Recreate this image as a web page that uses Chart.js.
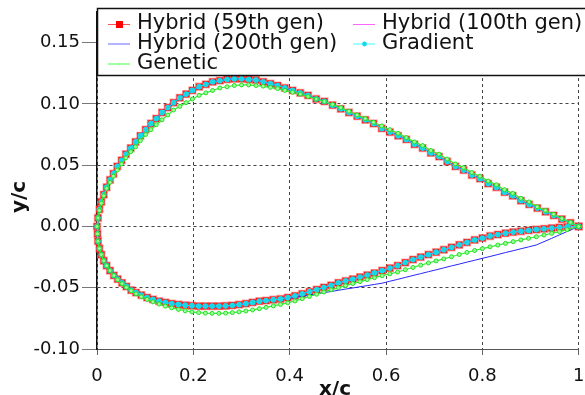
<!DOCTYPE html>
<html>
<head>
<meta charset="utf-8">
<script src="https://cdn.jsdelivr.net/npm/chart.js@4/dist/chart.umd.min.js"></script>
<style>
html, body { margin:0; padding:0; background:#fff; overflow:hidden; }
#wrap { width:585px; height:395px; position:relative; }
</style>
</head>
<body>
<div id="wrap"><canvas id="grafico"></canvas></div>
<script>
// DATOS
const upperX = [0.000,0.002,0.005,0.009,0.014,0.020,0.027,0.034,0.042,0.051,
    0.060,0.070,0.080,0.090,0.101,0.112,0.123,0.135,0.147,0.159,
    0.172,0.185,0.198,0.212,0.226,0.240,0.255,0.270,0.285,0.300,
    0.315,0.330,0.345,0.360,0.375,0.390,0.406,0.422,0.438,0.455,
    0.472,0.489,0.506,0.523,0.540,0.557,0.574,0.591,0.608,0.625,
    0.642,0.659,0.676,0.693,0.710,0.727,0.744,0.761,0.778,0.795,
    0.812,0.829,0.846,0.863,0.880,0.897,0.914,0.931,0.948,0.965,
    0.983,1.000];

const hybridUpperY = [0.000,0.007,0.014,0.020,0.026,0.032,0.038,0.043,0.049,0.054,
    0.059,0.064,0.069,0.074,0.079,0.084,0.088,0.093,0.097,0.101,
    0.105,0.108,0.111,0.114,0.116,0.118,0.119,0.120,0.1205,0.1205,
    0.120,0.1195,0.118,0.1165,0.115,0.113,0.111,0.109,0.107,0.104,
    0.102,0.099,0.096,0.093,0.090,0.087,0.084,0.080,0.077,0.074,
    0.071,0.067,0.064,0.060,0.057,0.053,0.049,0.046,0.042,0.039,
    0.035,0.032,0.028,0.025,0.021,0.018,0.015,0.012,0.009,0.006,
    0.003,0.000];

const geneticUpperY = [0.000,0.007,0.013,0.019,0.025,0.031,0.036,0.041,0.046,0.051,
    0.056,0.061,0.065,0.070,0.075,0.079,0.083,0.087,0.091,0.095,
    0.098,0.101,0.104,0.107,0.109,0.111,0.113,0.114,0.115,0.1155,
    0.1155,0.115,0.1145,0.1135,0.1125,0.111,0.1095,0.108,0.106,0.104,
    0.102,0.0995,0.097,0.094,0.091,0.088,0.085,0.082,0.079,0.076,
    0.0725,0.069,0.066,0.062,0.059,0.055,0.051,0.048,0.044,0.041,
    0.037,0.034,0.030,0.027,0.023,0.020,0.016,0.013,0.010,0.0065,
    0.0033,0.000];

const lowerX = [0.000,0.001,0.002,0.005,0.009,0.014,0.020,0.027,0.035,0.043,
    0.052,0.061,0.071,0.081,0.092,0.104,0.116,0.129,0.142,0.155,
    0.169,0.183,0.197,0.211,0.225,0.239,0.253,0.267,0.281,0.295,
    0.309,0.323,0.337,0.351,0.366,0.381,0.396,0.411,0.426,0.441,
    0.456,0.471,0.486,0.501,0.516,0.531,0.546,0.561,0.576,0.592,
    0.608,0.624,0.640,0.656,0.672,0.688,0.704,0.720,0.736,0.752,
    0.768,0.784,0.800,0.816,0.832,0.848,0.864,0.880,0.896,0.912,
    0.928,0.944,0.960,0.976,1.000];

const hybridLowerY = [0.000,-0.006,-0.012,-0.018,-0.023,-0.028,-0.032,-0.036,-0.040,-0.043,
    -0.046,-0.049,-0.052,-0.054,-0.056,-0.058,-0.0595,-0.061,-0.062,-0.063,
    -0.0637,-0.0643,-0.0647,-0.065,-0.065,-0.065,-0.065,-0.0648,-0.0644,-0.0638,
    -0.063,-0.062,-0.061,-0.0605,-0.0598,-0.0592,-0.058,-0.0566,-0.055,-0.0533,
    -0.0515,-0.0497,-0.048,-0.046,-0.0445,-0.043,-0.0413,-0.0397,-0.038,-0.036,
    -0.034,-0.032,-0.0295,-0.027,-0.025,-0.023,-0.021,-0.019,-0.017,-0.015,
    -0.013,-0.011,-0.0095,-0.0078,-0.0066,-0.0055,-0.0046,-0.0039,-0.0032,-0.0025,
    -0.0019,-0.0013,-0.0008,-0.0004,0.000];

const blueLowerY = [0.000,-0.006,-0.012,-0.018,-0.023,-0.028,-0.032,-0.036,-0.040,-0.043,
    -0.046,-0.049,-0.052,-0.054,-0.056,-0.058,-0.0595,-0.061,-0.062,-0.063,
    -0.0637,-0.0643,-0.0647,-0.065,-0.065,-0.065,-0.065,-0.0648,-0.0644,-0.0638,
    -0.063,-0.062,-0.061,-0.0605,-0.0600,-0.0594,-0.0587,-0.0579,-0.0570,-0.0560,
    -0.0550,-0.0540,-0.0531,-0.0521,-0.0511,-0.0502,-0.0492,-0.0483,-0.0473,-0.0463,
    -0.0447,-0.0432,-0.0416,-0.0400,-0.0385,-0.0369,-0.0354,-0.0338,-0.0322,-0.0307,
    -0.0291,-0.0276,-0.0260,-0.0245,-0.0229,-0.0213,-0.0198,-0.0182,-0.0167,-0.0151,
    -0.0124,-0.0097,-0.0069,-0.0041,0.000];

const geneticLowerY = [0.000,-0.006,-0.012,-0.018,-0.023,-0.028,-0.032,-0.036,-0.040,-0.0435,
    -0.0467,-0.0497,-0.0525,-0.055,-0.0573,-0.0595,-0.0615,-0.0633,-0.065,-0.0664,
    -0.0677,-0.0688,-0.0697,-0.0703,-0.0707,-0.0709,-0.0709,-0.0707,-0.0703,-0.0697,
    -0.069,-0.0681,-0.0671,-0.066,-0.0648,-0.0636,-0.0623,-0.0608,-0.059,-0.0571,
    -0.0553,-0.0535,-0.0517,-0.050,-0.0483,-0.0466,-0.045,-0.0434,-0.0418,-0.0402,
    -0.0387,-0.0372,-0.0353,-0.0335,-0.0316,-0.0298,-0.0281,-0.0265,-0.0247,-0.0229,
    -0.0212,-0.0196,-0.0181,-0.0166,-0.0152,-0.0138,-0.0124,-0.0110,-0.0097,-0.0084,
    -0.0070,-0.0056,-0.0042,-0.0026,0.000];

const xTicks = [0, 0.2, 0.4, 0.6, 0.8, 1];
const yTicks = [-0.10, -0.05, 0.00, 0.05, 0.10, 0.15];
const seriesNames = ['Hybrid (59th gen)', 'Hybrid (100th gen)', 'Hybrid (200th gen)', 'Gradient', 'Genetic'];

// contorno cerrado: extrados de borde de salida a borde de ataque, luego intrados
function contorno(xsUp, ysUp, xsLo, ysLo){
    let pts = [];
    for(let i = xsUp.length - 1; i >= 0; i--) pts.push({x: xsUp[i], y: ysUp[i]});
    for(let i = 1; i < xsLo.length; i++) pts.push({x: xsLo[i], y: ysLo[i]});
    return pts;
}

// LEYENDA Y TITULOS DE EJES
const leyenda = {
    id: 'leyenda',
    afterDraw(chart){
        const ctx = chart.ctx;
        ctx.save();

        ctx.fillStyle = '#fff';
        ctx.fillRect(97, 8, 500, 67);
        ctx.strokeStyle = '#111';
        ctx.lineWidth = 1.5;
        ctx.strokeRect(97.5, 8.5, 500, 67);

        const pos = [[108,24],[353,24],[108,43.5],[353,43.5],[108,63.5]];
        ctx.font = '21px "DejaVu Sans"';
        ctx.textBaseline = 'middle';
        ctx.textAlign = 'left';

        chart.data.datasets.forEach((ds, i)=>{
            let [x, y] = pos[i];
            ctx.strokeStyle = ds.legendColor;
            ctx.lineWidth = 1;
            ctx.beginPath();
            ctx.moveTo(x, y + 0.5);
            ctx.lineTo(x + 22, y + 0.5);
            ctx.stroke();

            let cx = x + 11;
            if(ds.pointStyle === 'rect' && ds.pointRadius > 0){
                ctx.fillStyle = ds.pointBackgroundColor;
                ctx.fillRect(cx - 3, y - 3, 7, 7);
            } else if(ds.pointRadius > 0){
                ctx.fillStyle = ds.pointBackgroundColor;
                ctx.beginPath();
                ctx.arc(cx + 0.5, y + 0.5, ds.pointRadius - 0.5, 0, Math.PI * 2);
                ctx.fill();
            }

            ctx.fillStyle = '#111';
            ctx.fillText(ds.label, x + 29, y);
        });

        ctx.font = 'bold 20px "DejaVu Sans"';
        ctx.textAlign = 'center';
        ctx.fillText('x/c', 335, 390);

        ctx.translate(20, 197);
        ctx.rotate(-Math.PI / 2);
        ctx.fillText('y/c', 0, 0);

        ctx.restore();
    }
};

const hybridPts = contorno(upperX, hybridUpperY, lowerX, hybridLowerY);
const bluePts = contorno(upperX, hybridUpperY, lowerX, blueLowerY);
const geneticPts = contorno(upperX, geneticUpperY, lowerX, geneticLowerY);

new Chart(document.getElementById('grafico'), {
    type: 'scatter',
    data: {
        datasets: [
            {
                label: seriesNames[0],
                data: hybridPts,
                showLine: true,
                borderColor: '#ff0000',
                borderWidth: 1,
                pointStyle: 'rect',
                pointRadius: 4.8,
                pointBackgroundColor: '#ff0000',
                pointBorderColor: 'rgba(255,70,70,0.45)',
                pointBorderWidth: 1.5,
                legendColor: '#ff5050',
                clip: false,
                order: 5
            },
            {
                label: seriesNames[1],
                data: hybridPts,
                showLine: true,
                borderColor: '#ff00ff',
                borderWidth: 1,
                pointRadius: 0,
                legendColor: '#ff66ff',
                clip: false,
                order: 4
            },
            {
                label: seriesNames[2],
                data: bluePts,
                showLine: true,
                borderColor: '#2626ff',
                borderWidth: 1,
                pointRadius: 0,
                legendColor: '#6a6aff',
                clip: false,
                order: 3
            },
            {
                label: seriesNames[3],
                data: hybridPts,
                showLine: true,
                borderColor: '#00e8f0',
                borderWidth: 1,
                pointStyle: 'circle',
                pointRadius: 2.9,
                pointBackgroundColor: '#18d8e8',
                pointBorderWidth: 0,
                legendColor: '#40ffff',
                clip: false,
                order: 2
            },
            {
                label: seriesNames[4],
                data: geneticPts,
                showLine: true,
                borderColor: '#33ee33',
                borderWidth: 1.2,
                pointStyle: 'circle',
                pointRadius: 2,
                pointBackgroundColor: '#9cff9c',
                pointBorderColor: '#22dd22',
                pointBorderWidth: 1,
                legendColor: '#44ff44',
                clip: false,
                order: 1
            }
        ]
    },
    options: {
        responsive: true,
        maintainAspectRatio: false,
        animation: false,
        events: [],
        layout: { padding: { left: 0, right: 2, top: 12, bottom: 0 } },
        plugins: {
            legend: { display: false },
            tooltip: { enabled: false }
        },
        scales: {
            x: {
                type: 'linear',
                min: 0,
                max: 1,
                afterBuildTicks: s => { s.ticks = xTicks.map(v => ({value: v})); },
                afterFit: s => { s.height = 46; s.paddingLeft = 0; s.paddingRight = 0; },
                ticks: {
                    callback: v => String(v),
                    font: { family: 'DejaVu Sans', size: 18 },
                    color: '#111',
                    padding: 11,
                    maxRotation: 0
                },
                grid: {
                    color: '#444',
                    lineWidth: 1,
                    tickLength: 6,
                    tickColor: '#666',
                    tickBorderDash: []
                },
                border: { display: true, color: '#555', width: 1, dash: [3, 3] }
            },
            y: {
                type: 'linear',
                min: -0.1,
                max: 0.175,
                afterBuildTicks: s => { s.ticks = yTicks.map(v => ({value: v})); },
                afterFit: s => { s.width = 97; s.paddingTop = 0; s.paddingBottom = 0; },
                ticks: {
                    callback: v => v.toFixed(2),
                    font: { family: 'DejaVu Sans', size: 18 },
                    color: '#111',
                    padding: 2
                },
                grid: {
                    color: '#444',
                    lineWidth: 1,
                    tickLength: 15,
                    tickColor: '#777',
                    tickBorderDash: []
                },
                border: { display: true, color: '#111', width: 1.5, dash: [3, 3] }
            }
        }
    },
    plugins: [leyenda]
});
</script>
</body>
</html>
